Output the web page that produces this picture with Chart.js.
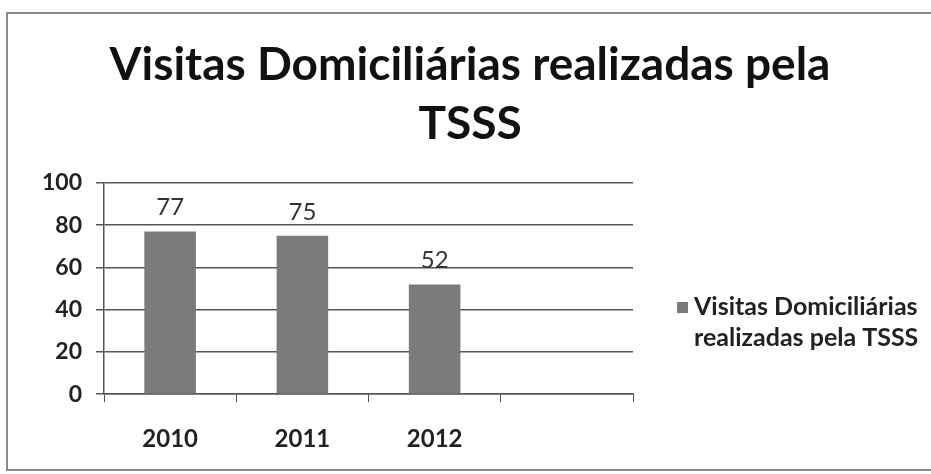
<!DOCTYPE html>
<html>
<head>
<meta charset="utf-8">
<script src="https://cdn.jsdelivr.net/npm/chart.js@4.4.0/dist/chart.umd.min.js"></script>
<style>
  html, body { margin: 0; padding: 0; background: #fff; }
  #wrap { width: 931px; height: 474px; }
</style>
</head>
<body>
<div id="wrap"><canvas id="visitasChart" width="931" height="474"></canvas></div>
<script>
// Dados do gráfico
const anos = ['2010', '2011', '2012', ''];
const visitas = [77, 75, 52, null];
const tituloLinhas = ['Visitas Domiciliárias realizadas pela', 'TSSS'];
const legendaLinhas = ['Visitas Domiciliárias', 'realizadas pela TSSS'];
const yTicks = [0, 20, 40, 60, 80, 100];

const corBarra = '#7b7b7b';
const fonte = 'Lato, "Open Sans", sans-serif';

// Moldura cinzenta e título centrado na página
const moldura = {
  id: 'moldura',
  beforeDraw(chart) {
    const c = chart.ctx;
    c.save();
    c.fillStyle = '#fff';
    c.fillRect(0, 0, chart.width, chart.height);
    c.strokeStyle = '#8a8a8a';
    c.lineWidth = 2;
    c.strokeRect(7, 13, chart.width, 457);
    c.fillStyle = '#111';
    c.font = 'bold 46px ' + fonte;
    c.textAlign = 'center';
    c.textBaseline = 'alphabetic';
    c.fillText(tituloLinhas[0], 470, 80);
    c.fillText(tituloLinhas[1], 470, 139);
    c.restore();
  }
};

// Valores por cima das barras
const rotulos = {
  id: 'rotulos',
  afterDatasetsDraw(chart) {
    const c = chart.ctx;
    const meta = chart.getDatasetMeta(0);
    c.save();
    c.font = '24px ' + fonte;
    c.fillStyle = '#333';
    c.textAlign = 'center';
    c.textBaseline = 'bottom';
    meta.data.forEach((bar, i) => {
      const v = visitas[i];
      if (v == null) return;
      c.fillText(String(v), bar.x, bar.y - 12);
    });
    c.restore();
  }
};

// Legenda em duas linhas à direita
const legenda = {
  id: 'legenda',
  afterDraw(chart) {
    const c = chart.ctx;
    c.save();
    c.fillStyle = corBarra;
    c.fillRect(677, 302, 11, 11);
    c.fillStyle = '#222';
    c.font = 'bold 25px ' + fonte;
    c.textAlign = 'left';
    c.textBaseline = 'middle';
    c.fillText(legendaLinhas[0], 694, 307);
    c.fillText(legendaLinhas[1], 694, 338);
    c.restore();
  }
};

new Chart(document.getElementById('visitasChart'), {
  type: 'bar',
  data: {
    labels: anos,
    datasets: [{
      label: legendaLinhas.join(' '),
      data: visitas,
      backgroundColor: corBarra,
      barPercentage: 0.78,
      categoryPercentage: 0.5
    }]
  },
  options: {
    responsive: false,
    animation: false,
    layout: { padding: { left: 20, right: 298, top: 183, bottom: -3 } },
    plugins: {
      legend: { display: false },
      tooltip: { enabled: false },
      title: { display: false }
    },
    scales: {
      x: {
        grid: {
          offset: true,
          drawOnChartArea: false,
          drawTicks: true,
          tickLength: 8,
          color: '#555'
        },
        border: { color: '#555', width: 1.5 },
        ticks: {
          padding: 23,
          color: '#222',
          font: { family: fonte, size: 24, weight: 'bold' }
        }
      },
      y: {
        min: 0,
        max: 100,
        afterFit(scale) { scale.width = 84; },
        afterBuildTicks(scale) { scale.ticks = yTicks.map(v => ({ value: v })); },
        grid: { color: '#555', lineWidth: 1.5, tickLength: 8 },
        border: { color: '#555', width: 1.5 },
        ticks: {
          padding: 14,
          color: '#222',
          font: { family: fonte, size: 23, weight: 'bold' }
        }
      }
    }
  },
  plugins: [moldura, rotulos, legenda]
});
</script>
</body>
</html>
